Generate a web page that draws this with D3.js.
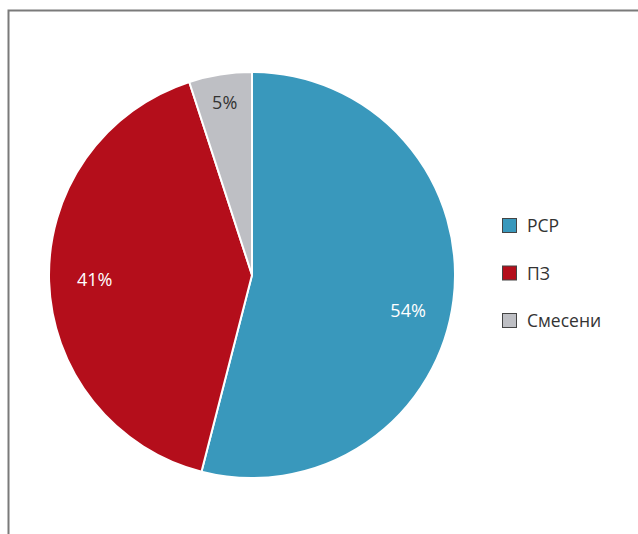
<!DOCTYPE html>
<html>
<head>
<meta charset="utf-8">
<title>pie</title>
<style>
  body { margin: 0; background: #fff; }
  svg { display: block; font-family: "Open Sans", "Noto Sans", sans-serif; }
</style>
</head>
<body>
<div id="chart"></div>
<script src="https://cdn.jsdelivr.net/npm/d3@7"></script>
<script>
var categories = ['РСР', 'ПЗ', 'Смесени'];
var shares = [54, 41, 5];
var labels = ['54%', '41%', '5%'];
var colors = ['#3998bc', '#b40e1b', '#bebfc4'];
var labelColors = ['#fff', '#fff', '#333'];

var width = 638, height = 534;
var cx = 252, cy = 275, radius = 203;

var svg = d3.select('#chart')
  .append('svg')
  .attr('width', width)
  .attr('height', height);

// frame (only top and left edges show in the crop)
svg.append('path')
  .attr('d', 'M8.5,' + height + 'V10.5H' + width)
  .attr('fill', 'none')
  .attr('stroke', '#7a7a7a')
  .attr('stroke-width', 2);

var pie = d3.pie().sort(null).value(d => d);
var arcs = pie(shares);

var arc = d3.arc().innerRadius(0).outerRadius(radius);

var g = svg.append('g')
  .attr('transform', 'translate(' + cx + ',' + cy + ')');

g.selectAll('path.slice')
  .data(arcs)
  .enter().append('path')
  .attr('class', 'slice')
  .attr('d', arc)
  .attr('fill', (d, i) => colors[i])
  .attr('stroke', '#fff')
  .attr('stroke-width', 2)
  .attr('stroke-linejoin', 'round');

// label placement: small slice sits further out, big ones a bit lower like excel's best fit
function labelPos(d) {
  var small = (d.endAngle - d.startAngle) < 0.5;
  var r = small ? radius * 0.86 : radius * 0.775;
  var a = (d.startAngle + d.endAngle) / 2;
  var x = r * Math.sin(a), y = -r * Math.cos(a);
  if (!small && x > 0) y += 16;
  return [x, y];
}

g.selectAll('text.lbl')
  .data(arcs)
  .enter().append('text')
  .attr('class', 'lbl')
  .attr('transform', d => 'translate(' + labelPos(d) + ')')
  .attr('text-anchor', 'middle')
  .attr('dy', '0.35em')
  .style('font-size', '18px')
  .style('fill', (d, i) => labelColors[i])
  .text((d, i) => labels[i]);

// legend
var legend = svg.append('g')
  .attr('transform', 'translate(502,218)');

var item = legend.selectAll('g')
  .data(categories)
  .enter().append('g')
  .attr('transform', (d, i) => 'translate(0,' + (i * 47.5) + ')');

item.append('rect')
  .attr('x', 0.5).attr('y', 0.5)
  .attr('width', 14).attr('height', 14)
  .attr('fill', (d, i) => colors[i])
  .attr('stroke', '#444')
  .attr('stroke-width', 1);

item.append('text')
  .attr('x', 25)
  .attr('y', 8)
  .attr('dy', '0.35em')
  .style('font-size', '17.5px')
  .style('fill', '#333')
  .text(d => d);
</script>
</body>
</html>
